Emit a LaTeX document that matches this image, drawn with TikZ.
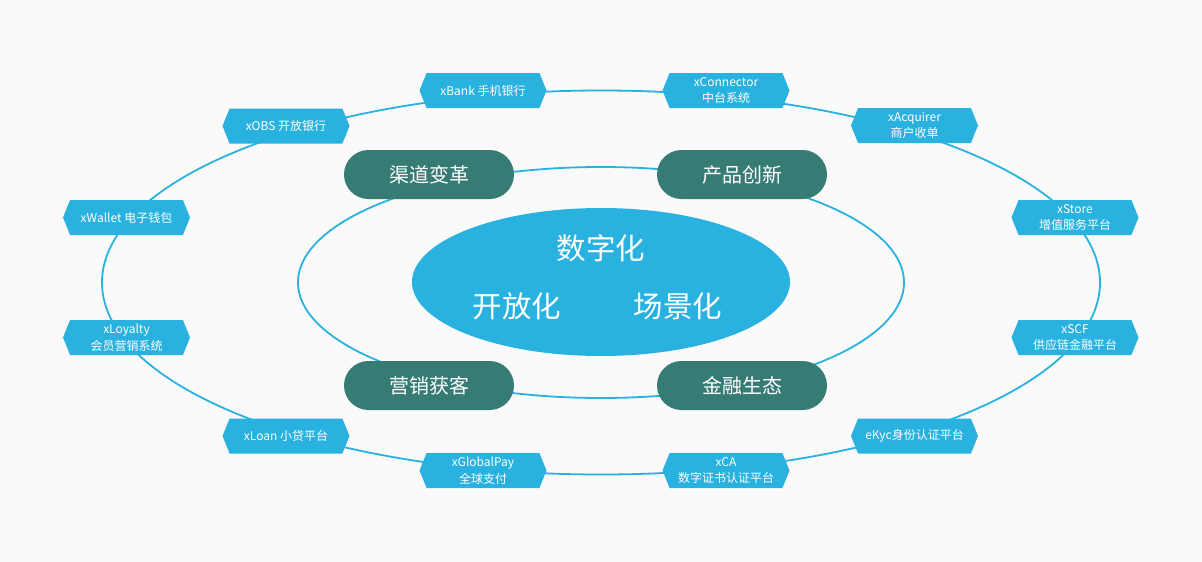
\documentclass[tikz,border=0pt]{standalone}
\usepackage{fontspec}
\setmainfont{Noto Sans CJK SC}
\usetikzlibrary{shapes.symbols,shapes.geometric}
\definecolor{bg}{HTML}{FAFAFA}
\definecolor{tagblue}{HTML}{29B2E0}
\definecolor{darkgreen}{HTML}{367B74}
\tikzset{
  tag/.style={shape=signal, signal to=east and west, signal pointer angle=136,
    fill=tagblue, draw=none, text=white, minimum width=127pt, minimum height=35pt,
    inner sep=0pt, align=center, font=\fontsize{12}{16.5}\selectfont},
  pill/.style={rectangle, rounded corners=24.5pt, fill=darkgreen, text=white,
    minimum width=170pt, minimum height=49pt, inner sep=0pt, font=\fontsize{20}{24}\selectfont},
  ring/.style={draw=tagblue, line width=1.8pt},
  bigtext/.style={text=white, inner sep=0pt, font=\fontsize{29.5}{32}\selectfont}
}
\begin{document}
\begin{tikzpicture}[x=1pt,y=-1pt]
\useasboundingbox[fill=bg] (0,0) rectangle (1202,562);
\coordinate (c) at (601,282.5);
\draw[ring] (c) ellipse [x radius=499, y radius=192];
\draw[ring] (c) ellipse [x radius=303, y radius=115.5];
\node[ellipse, fill=tagblue, minimum width=378pt, minimum height=148pt, inner sep=0pt] (core) at (601,282) {};
\node[bigtext] (t1) at (601,248) {数字化};
\node[bigtext] (t2) at (517,306) {开放化};
\node[bigtext] (t3) at (678,306) {场景化};
\node[pill] (p1) at (429,174.5) {渠道变革};
\node[pill] (p2) at (742,174.5) {产品创新};
\node[pill] (p3) at (429,385.5) {营销获客};
\node[pill] (p4) at (742,385.5) {金融生态};
\node[tag] (a1) at (483,90.5) {xBank 手机银行};
\node[tag] (a2) at (726,90.5) {xConnector\\中台系统};
\node[tag] (a3) at (286,126) {xOBS 开放银行};
\node[tag] (a4) at (914.5,125.5) {xAcquirer\\商户收单};
\node[tag] (a5) at (126.5,217.5) {xWallet 电子钱包};
\node[tag] (a6) at (1075,217.5) {xStore\\增值服务平台};
\node[tag] (a7) at (126.5,337.5) {xLoyalty\\会员营销系统};
\node[tag] (a8) at (1075,337.5) {xSCF\\供应链金融平台};
\node[tag] (a9) at (286,436) {xLoan 小贷平台};
\node[tag] (a10) at (914.5,436) {eKyc身份认证平台};
\node[tag] (a11) at (483,470.5) {xGlobalPay\\全球支付};
\node[tag] (a12) at (726,470.5) {xCA\\数字证书认证平台};
\end{tikzpicture}
\end{document}
